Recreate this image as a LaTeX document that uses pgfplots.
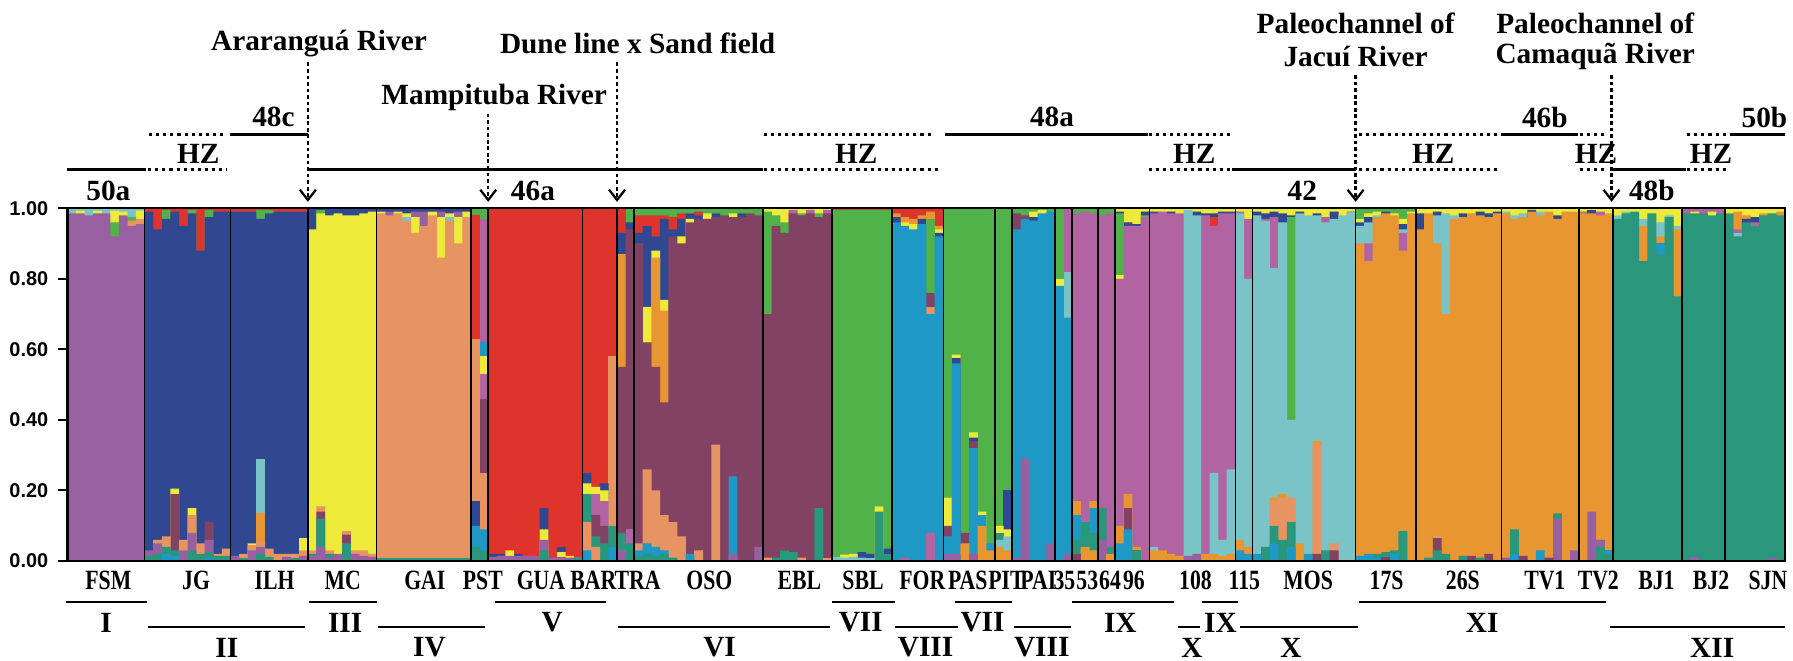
\documentclass[border=0pt]{standalone}
\usepackage{fontspec}
\usepackage{graphicx}
\usepackage{pgfplots}
\pgfplotsset{compat=1.18}
\usetikzlibrary{arrows.meta}
\setmainfont{Liberation Serif}
\newfontfamily\tickfamily{Liberation Sans}
\newcommand\tickfont{\tickfamily\bfseries\fontsize{7}{8}\selectfont}
\newcommand\bigfont{\bfseries\fontsize{10.3}{12}\selectfont}
\newcommand\popfont{\bfseries\fontsize{9.8}{11}\selectfont}
\newcommand\pl[1]{\scalebox{0.78}[1]{#1}}

\definecolor{pu}{RGB}{152,96,160}
\definecolor{nv}{RGB}{48,72,145}
\definecolor{yl}{RGB}{238,234,58}
\definecolor{sa}{RGB}{232,148,98}
\definecolor{rd}{RGB}{222,52,44}
\definecolor{mr}{RGB}{130,66,100}
\definecolor{gn}{RGB}{80,178,72}
\definecolor{bu}{RGB}{30,152,196}
\definecolor{pk}{RGB}{178,100,162}
\definecolor{cy}{RGB}{122,196,200}
\definecolor{og}{RGB}{232,150,50}
\definecolor{tl}{RGB}{42,150,124}

\pgfplotsset{seg/.style={ybar, bar width=1.03, bar shift=0pt, draw=none, fill=#1}}
\tikzset{
  solidln/.style={line width=1.1pt},
  dotln/.style={line width=1.1pt, dash pattern=on 1.1pt off 1.4pt},
  arr/.style={line width=0.8pt, dash pattern=on 1.3pt off 1pt,
    -{Straight Barb[length=3.6pt,width=5.6pt,line width=0.8pt]}},
  big/.style={font=\bigfont, inner sep=0pt, align=center},
  pop/.style={font=\popfont, inner sep=0pt},
  romln/.style={line width=0.6pt}
}

\begin{document}
\begin{tikzpicture}
\begin{axis}[
  scale only axis, width=603.6pt, height=124pt,
  xmin=0.5, xmax=200.5, ymin=0, ymax=1,
  clip=false, axis on top,
  xtick=\empty,
  extra x ticks={9.5,19.5,28.5,36.5,47.5,49.5,60.5,64.5,66.5,81.5,89.5,96.5,102.5,108.5,110.5,115.5,117.5,120.5,122.5,126.5,136.5,138.5,150.5,157.5,167.5,176.5,180.5,188.5,193.5},
  extra x tick labels={},
  extra x tick style={xmajorgrids=true, major tick length=0pt},
  major grid style={black, line width=0.55pt},
  ytick={0,0.2,0.4,0.6,0.8,1},
  ytick pos=left, tick align=outside, major tick length=3.2pt,
  tick style={black, line width=0.7pt},
  yticklabel style={font=\tickfont, /pgf/number format/fixed, /pgf/number format/fixed zerofill, /pgf/number format/precision=2, /pgf/number format/assume math mode=true},
  axis line style={line width=0.85pt},
]
% FSM
\addplot[seg=cy] coordinates {(1,1)(2,1)(3,1)(4,1)(5,1)(6,1)(7,1)(8,1)(9,1)};
\addplot[seg=yl] coordinates {(2,0.993)(4,0.993)(6,0.993)(7,0.99)(9,0.993)};
\addplot[seg=gn] coordinates {(6,0.96)(8,0.975)};
\addplot[seg=sa] coordinates {(8,0.965)(9,0.97)};
\addplot[seg=pu] coordinates {(1,0.985)(2,0.985)(3,0.98)(4,0.985)(5,0.985)(6,0.92)(7,0.98)(8,0.95)(9,0.955)};
% JG
\addplot[seg=rd] coordinates {(10,1)(11,1)(12,1)(13,1)(14,1)(15,1)(16,1)(17,1)(18,1)(19,1)};
\addplot[seg=gn] coordinates {(12,0.995)(15,0.995)(17,0.995)};
\addplot[seg=nv] coordinates {(10,0.99)(11,0.94)(12,0.97)(13,0.99)(14,0.95)(15,0.985)(16,0.88)(17,0.975)(18,0.99)(19,0.99)};
\addplot[seg=yl] coordinates {(13,0.205)(15,0.15)};
\addplot[seg=mr] coordinates {(13,0.19)(17,0.11)};
\addplot[seg=sa] coordinates {(11,0.06)(12,0.07)(14,0.06)(15,0.13)(16,0.05)(18,0.02)(19,0.035)};
\addplot[seg=pu] coordinates {(10,0.03)(11,0.05)(14,0.03)(15,0.08)(17,0.06)};
\addplot[seg=tl] coordinates {(10,0.015)(11,0.02)(12,0.04)(13,0.03)(15,0.03)(16,0.02)(17,0.025)(18,0.015)(19,0.015)};
\addplot[seg=bu] coordinates {(12,0.02)(13,0.015)(17,0.01)};
% ILH
\addplot[seg=rd] coordinates {(20,1)(21,1)(22,1)(23,1)(24,1)(25,1)(26,1)(27,1)(28,1)};
\addplot[seg=gn] coordinates {(23,0.995)(24,0.995)};
\addplot[seg=nv] coordinates {(20,0.99)(21,0.99)(22,0.99)(23,0.97)(24,0.985)(25,0.99)(26,0.99)(27,0.99)(28,0.99)};
\addplot[seg=cy] coordinates {(23,0.29)};
\addplot[seg=og] coordinates {(23,0.135)};
\addplot[seg=yl] coordinates {(22,0.05)(28,0.065)};
\addplot[seg=sa] coordinates {(21,0.02)(22,0.045)(23,0.055)(24,0.035)(25,0.02)(26,0.02)(27,0.02)(28,0.03)};
\addplot[seg=pu] coordinates {(20,0.015)(22,0.03)(23,0.04)(26,0.012)(28,0.015)};
\addplot[seg=tl] coordinates {(21,0.008)(23,0.02)(24,0.012)(27,0.008)};
% MC
\addplot[seg=nv] coordinates {(29,1)(30,1)(31,1)(32,1)(33,1)(34,1)(35,1)(36,1)};
\addplot[seg=gn] coordinates {(30,0.995)};
\addplot[seg=yl] coordinates {(29,0.94)(30,0.985)(31,0.98)(32,0.985)(33,0.98)(34,0.98)(35,0.985)(36,0.99)};
\addplot[seg=sa] coordinates {(29,0.03)(30,0.155)(31,0.03)(33,0.085)(34,0.03)(35,0.03)(36,0.02)};
\addplot[seg=mr] coordinates {(30,0.14)(33,0.075)};
\addplot[seg=tl] coordinates {(29,0.02)(30,0.12)(31,0.02)(33,0.05)};
\addplot[seg=pu] coordinates {(29,0.015)(30,0.04)(31,0.01)(32,0.02)(34,0.02)(35,0.015)(36,0.012)};
% GAI
\addplot[seg=nv] coordinates {(37,1)(38,1)(39,1)(40,1)(41,1)(42,1)(43,1)(44,1)(45,1)(46,1)(47,1)};
\addplot[seg=pu] coordinates {(38,0.99)(41,0.99)(42,0.99)(44,0.99)(46,0.99)};
\addplot[seg=yl] coordinates {(37,0.99)(39,0.99)(40,0.985)(41,0.975)(43,0.99)(44,0.975)(45,0.985)(46,0.975)(47,0.99)};
\addplot[seg=cy] coordinates {(40,0.975)(45,0.975)};
\addplot[seg=sa] coordinates {(37,0.985)(38,0.98)(39,0.985)(40,0.965)(41,0.93)(42,0.95)(43,0.98)(44,0.86)(45,0.965)(46,0.9)(47,0.975)};
\addplot[seg=tl] coordinates {(37,0.008)(38,0.008)(39,0.008)(40,0.008)(41,0.008)(42,0.008)(43,0.008)(44,0.008)(45,0.008)(46,0.008)(47,0.008)};
% PST
\addplot[seg=gn] coordinates {(48,1)(49,1)};
\addplot[seg=rd] coordinates {(48,0.98)};
\addplot[seg=pk] coordinates {(49,0.97)};
\addplot[seg=sa] coordinates {(48,0.63)};
\addplot[seg=bu] coordinates {(49,0.62)};
\addplot[seg=yl] coordinates {(49,0.58)};
\addplot[seg=pk] coordinates {(49,0.53)};
\addplot[seg=mr] coordinates {(49,0.46)};
\addplot[seg=sa] coordinates {(49,0.25)};
\addplot[seg=nv] coordinates {(48,0.17)};
\addplot[seg=bu] coordinates {(48,0.1)(49,0.09)};
\addplot[seg=tl] coordinates {(48,0.04)(49,0.03)};
% GUA
\addplot[seg=rd] coordinates {(50,1)(51,1)(52,1)(53,1)(54,1)(55,1)(56,1)(57,1)(58,1)(59,1)(60,1)};
\addplot[seg=nv] coordinates {(50,0.02)(51,0.02)(53,0.02)(56,0.15)(58,0.04)};
\addplot[seg=yl] coordinates {(52,0.03)(56,0.09)(58,0.025)(59,0.015)};
\addplot[seg=pu] coordinates {(50,0.012)(51,0.015)(52,0.015)(53,0.015)(54,0.015)(55,0.015)(56,0.06)(57,0.01)(58,0.012)(59,0.01)(60,0.012)};
\addplot[seg=tl] coordinates {(56,0.03)(60,0.008)};
% BAR
\addplot[seg=rd] coordinates {(61,1)(62,1)(63,1)(64,1)};
\addplot[seg=sa] coordinates {(64,0.58)};
\addplot[seg=nv] coordinates {(61,0.25)(63,0.22)};
\addplot[seg=yl] coordinates {(61,0.22)(62,0.21)(63,0.2)};
\addplot[seg=pk] coordinates {(62,0.19)(63,0.17)};
\addplot[seg=mr] coordinates {(62,0.13)(63,0.1)};
\addplot[seg=tl] coordinates {(61,0.19)(62,0.07)(63,0.05)(64,0.1)};
\addplot[seg=sa] coordinates {(61,0.11)(62,0.04)};
\addplot[seg=bu] coordinates {(61,0.03)(64,0.04)};
% TRA
\addplot[seg=rd] coordinates {(65,1)};
\addplot[seg=gn] coordinates {(66,1)};
\addplot[seg=nv] coordinates {(65,0.93)(66,0.96)};
\addplot[seg=og] coordinates {(65,0.87)};
\addplot[seg=mr] coordinates {(65,0.55)(66,0.94)};
\addplot[seg=pk] coordinates {(66,0.09)};
\addplot[seg=tl] coordinates {(65,0.08)(66,0.05)};
\addplot[seg=pu] coordinates {(65,0.03)};
% OSO
\addplot[seg=gn] coordinates {(67,1)(68,1)(69,1)(70,1)(71,1)(72,1)(73,1)(74,1)(75,1)(76,1)(77,1)(78,1)(79,1)(80,1)(81,1)};
\addplot[seg=rd] coordinates {(67,0.98)(68,0.98)(69,0.98)(70,0.98)(71,0.975)(72,0.985)(74,0.99)};
\addplot[seg=nv] coordinates {(67,0.93)(68,0.95)(69,0.92)(70,0.97)(71,0.94)(72,0.97)(73,0.985)(74,0.98)(76,0.985)(79,0.985)};
\addplot[seg=yl] coordinates {(68,0.72)(69,0.88)(70,0.74)(72,0.92)(73,0.97)(75,0.985)(78,0.985)};
\addplot[seg=og] coordinates {(69,0.86)(70,0.71)};
\addplot[seg=mr] coordinates {(67,0.9)(68,0.62)(69,0.55)(70,0.45)(71,0.92)(72,0.9)(73,0.96)(74,0.97)(75,0.97)(76,0.975)(77,0.98)(78,0.975)(79,0.975)(80,0.985)(81,0.98)};
\addplot[seg=sa] coordinates {(67,0.05)(68,0.26)(69,0.2)(70,0.13)(71,0.11)(72,0.07)(74,0.03)(76,0.33)};
\addplot[seg=bu] coordinates {(67,0.03)(68,0.05)(69,0.04)(70,0.03)(73,0.02)(78,0.24)};
\addplot[seg=pu] coordinates {(78,0.02)(81,0.04)};
\addplot[seg=tl] coordinates {(67,0.015)(68,0.02)(69,0.015)(70,0.02)(71,0.01)};
% EBL
\addplot[seg=yl] coordinates {(82,1)(83,1)(84,1)(85,1)(86,1)(87,1)(88,1)(89,1)};
\addplot[seg=pk] coordinates {(85,0.995)(87,0.995)(89,0.995)};
\addplot[seg=gn] coordinates {(82,0.99)(83,0.98)(84,0.96)(86,0.985)(88,0.985)};
\addplot[seg=mr] coordinates {(82,0.7)(83,0.95)(84,0.93)(85,0.985)(86,0.98)(87,0.985)(88,0.975)(89,0.985)};
\addplot[seg=tl] coordinates {(83,0.01)(84,0.03)(85,0.025)(88,0.15)};
\addplot[seg=sa] coordinates {(82,0.01)(86,0.01)(89,0.008)};
% SBL
\addplot[seg=rd] coordinates {(90,1)(91,1)(92,1)(93,1)(94,1)(95,1)(96,1)};
\addplot[seg=gn] coordinates {(90,0.995)(91,0.995)(92,0.995)(93,0.995)(94,0.995)(95,0.995)(96,0.995)};
\addplot[seg=nv] coordinates {(93,0.025)(94,0.02)(96,0.035)};
\addplot[seg=yl] coordinates {(91,0.018)(92,0.02)(95,0.155)};
\addplot[seg=tl] coordinates {(90,0.008)(95,0.14)(96,0.02)};
\addplot[seg=cy] coordinates {(90,0.012)(91,0.01)(92,0.012)(93,0.01)(94,0.008)};
% FOR
\addplot[seg=rd] coordinates {(97,1)(98,1)(99,1)(100,1)(101,1)(102,1)};
\addplot[seg=og] coordinates {(97,0.985)(98,0.975)(99,0.97)(100,0.98)(101,0.99)(102,0.95)};
\addplot[seg=yl] coordinates {(98,0.96)(99,0.955)(102,0.94)};
\addplot[seg=nv] coordinates {(97,0.975)(100,0.97)(102,0.93)};
\addplot[seg=gn] coordinates {(101,0.97)};
\addplot[seg=mr] coordinates {(101,0.76)};
\addplot[seg=sa] coordinates {(101,0.72)};
\addplot[seg=bu] coordinates {(97,0.96)(98,0.95)(99,0.94)(100,0.955)(101,0.7)(102,0.92)};
\addplot[seg=pk] coordinates {(101,0.08)(98,0.01)};
% PAS
\addplot[seg=gn] coordinates {(103,1)(104,1)(105,1)(106,1)(107,1)(108,1)};
\addplot[seg=yl] coordinates {(103,0.18)(104,0.585)(106,0.365)(107,0.14)};
\addplot[seg=nv] coordinates {(104,0.575)(106,0.35)};
\addplot[seg=mr] coordinates {(103,0.1)(105,0.08)(106,0.34)};
\addplot[seg=bu] coordinates {(103,0.07)(104,0.56)(106,0.32)(107,0.13)(108,0.05)};
\addplot[seg=og] coordinates {(105,0.05)(107,0.1)(108,0.03)};
\addplot[seg=pu] coordinates {(103,0.02)(104,0.02)(106,0.02)};
% PIT
\addplot[seg=gn] coordinates {(109,1)(110,1)};
\addplot[seg=nv] coordinates {(110,0.2)};
\addplot[seg=yl] coordinates {(109,0.1)(110,0.09)};
\addplot[seg=tl] coordinates {(109,0.08)};
\addplot[seg=cy] coordinates {(109,0.06)(110,0.07)};
\addplot[seg=og] coordinates {(109,0.04)(110,0.03)};
% PAI
\addplot[seg=gn] coordinates {(111,1)(112,1)(113,1)(114,1)(115,1)};
\addplot[seg=yl] coordinates {(113,0.99)(114,0.995)};
\addplot[seg=mr] coordinates {(111,0.985)(112,0.98)};
\addplot[seg=nv] coordinates {(113,0.975)};
\addplot[seg=bu] coordinates {(111,0.94)(112,0.97)(113,0.965)(114,0.985)(115,0.99)};
\addplot[seg=pu] coordinates {(111,0.01)(112,0.29)(115,0.05)};
% 35
\addplot[seg=gn] coordinates {(116,1)};
\addplot[seg=pk] coordinates {(117,1)};
\addplot[seg=yl] coordinates {(116,0.8)};
\addplot[seg=cy] coordinates {(117,0.82)};
\addplot[seg=bu] coordinates {(116,0.78)(117,0.69)};
\addplot[seg=pu] coordinates {(117,0.02)};
% 53
\addplot[seg=gn] coordinates {(118,1)(119,1)(120,1)};
\addplot[seg=pk] coordinates {(118,0.985)(119,0.99)(120,0.985)};
\addplot[seg=og] coordinates {(118,0.17)(120,0.17)};
\addplot[seg=bu] coordinates {(118,0.13)(120,0.15)};
\addplot[seg=tl] coordinates {(118,0.06)(119,0.11)(120,0.08)};
\addplot[seg=og] coordinates {(119,0.04)(120,0.03)};
\addplot[seg=mr] coordinates {(118,0.02)};
% 64
\addplot[seg=gn] coordinates {(121,1)(122,1)};
\addplot[seg=pk] coordinates {(121,0.98)(122,0.985)};
\addplot[seg=tl] coordinates {(121,0.15)(122,0.04)};
\addplot[seg=pu] coordinates {(121,0.06)};
\addplot[seg=og] coordinates {(122,0.02)};
% 96
\addplot[seg=yl] coordinates {(123,1)(124,1)(125,1)(126,1)};
\addplot[seg=nv] coordinates {(123,0.99)(124,0.96)(125,0.955)(126,0.99)};
\addplot[seg=gn] coordinates {(123,0.985)(126,0.98)};
\addplot[seg=yl] coordinates {(123,0.81)};
\addplot[seg=pk] coordinates {(123,0.8)(124,0.95)(125,0.95)(126,0.975)};
\addplot[seg=og] coordinates {(123,0.1)(124,0.19)(125,0.04)};
\addplot[seg=mr] coordinates {(124,0.15)};
\addplot[seg=bu] coordinates {(123,0.05)(124,0.09)};
\addplot[seg=tl] coordinates {(125,0.03)};
% 108
\addplot[seg=yl] coordinates {(127,1)(128,1)(129,1)(130,1)(131,1)(132,1)(133,1)(134,1)(135,1)(136,1)};
\addplot[seg=nv] coordinates {(127,0.99)(129,0.99)(132,0.99)(133,0.985)(134,0.985)(135,0.99)(136,0.99)};
\addplot[seg=rd] coordinates {(134,0.975)};
\addplot[seg=pk] coordinates {(127,0.985)(128,0.99)(129,0.985)(130,0.985)(133,0.98)(134,0.95)(135,0.985)(136,0.985)};
\addplot[seg=cy] coordinates {(131,0.995)(132,0.98)};
\addplot[seg=cy] coordinates {(127,0.04)(134,0.25)(135,0.06)(136,0.26)};
\addplot[seg=og] coordinates {(127,0.03)(128,0.03)(129,0.02)(130,0.015)(133,0.02)(134,0.02)(135,0.015)(136,0.02)};
\addplot[seg=pu] coordinates {(131,0.015)(132,0.02)};
% 115
\addplot[seg=yl] coordinates {(137,1)(138,1)};
\addplot[seg=pk] coordinates {(137,0.99)(138,0.97)};
\addplot[seg=cy] coordinates {(137,0.985)(138,0.8)};
\addplot[seg=og] coordinates {(137,0.06)(138,0.04)};
\addplot[seg=bu] coordinates {(137,0.03)(138,0.02)};
% MOS
\addplot[seg=yl] coordinates {(139,1)(140,1)(141,1)(142,1)(143,1)(144,1)(145,1)(146,1)(147,1)(148,1)(149,1)(150,1)};
\addplot[seg=nv] coordinates {(139,0.99)(140,0.985)(141,0.99)(142,0.985)(143,0.98)(144,0.99)(146,0.985)(148,0.99)(150,0.99)};
\addplot[seg=pk] coordinates {(140,0.97)(141,0.975)(147,0.975)};
\addplot[seg=gn] coordinates {(143,0.975)};
\addplot[seg=cy] coordinates {(139,0.98)(140,0.965)(141,0.83)(142,0.96)(143,0.4)(144,0.985)(145,0.98)(146,0.98)(147,0.96)(148,0.97)(149,0.98)(150,0.99)};
\addplot[seg=og] coordinates {(141,0.18)(142,0.19)(144,0.05)(146,0.34)};
\addplot[seg=sa] coordinates {(141,0.17)(142,0.18)(143,0.18)(146,0.33)(148,0.05)};
\addplot[seg=tl] coordinates {(140,0.04)(141,0.1)(142,0.06)(143,0.11)(147,0.03)};
\addplot[seg=bu] coordinates {(139,0.02)(141,0.05)(143,0.04)(145,0.02)};
\addplot[seg=mr] coordinates {(146,0.02)(148,0.03)};
% 17S
\addplot[seg=gn] coordinates {(151,1)(152,1)(153,1)(154,1)(155,1)(156,1)(157,1)};
\addplot[seg=yl] coordinates {(151,0.97)(152,0.985)(153,0.99)(155,0.985)(156,0.97)(157,0.99)};
\addplot[seg=nv] coordinates {(151,0.96)(152,0.975)(154,0.99)(156,0.955)};
\addplot[seg=cy] coordinates {(151,0.95)(152,0.96)(153,0.98)(156,0.94)};
\addplot[seg=pk] coordinates {(152,0.9)(156,0.93)};
\addplot[seg=og] coordinates {(151,0.9)(152,0.85)(153,0.975)(154,0.985)(155,0.98)(156,0.88)(157,0.985)};
\addplot[seg=tl] coordinates {(153,0.02)(154,0.025)(155,0.03)(156,0.085)};
\addplot[seg=bu] coordinates {(151,0.015)(152,0.02)(153,0.01)(155,0.02)};
\addplot[seg=mr] coordinates {(154,0.012)};
% 26S
\addplot[seg=yl] coordinates {(158,1)(159,1)(160,1)(161,1)(162,1)(163,1)(164,1)(165,1)(166,1)(167,1)};
\addplot[seg=nv] coordinates {(158,0.985)(160,0.99)(163,0.985)(165,0.99)(166,0.985)(167,0.99)};
\addplot[seg=cy] coordinates {(160,0.98)(161,0.985)(162,0.98)};
\addplot[seg=og] coordinates {(158,0.94)(159,0.985)(160,0.9)(161,0.7)(162,0.97)(163,0.975)(164,0.985)(165,0.98)(166,0.975)(167,0.985)};
\addplot[seg=sa] coordinates {(160,0.07)};
\addplot[seg=mr] coordinates {(160,0.065)(164,0.015)(166,0.02)};
\addplot[seg=tl] coordinates {(159,0.01)(160,0.03)(161,0.02)(163,0.015)(165,0.01)};
% TV1
\addplot[seg=yl] coordinates {(168,1)(169,1)(170,1)(171,1)(172,1)(173,1)(174,1)(175,1)(176,1)};
\addplot[seg=cy] coordinates {(168,0.99)(169,0.98)(170,0.985)(172,0.99)};
\addplot[seg=nv] coordinates {(171,0.995)(174,0.98)};
\addplot[seg=og] coordinates {(168,0.985)(169,0.97)(170,0.975)(171,0.99)(172,0.98)(173,0.99)(174,0.97)(175,0.99)(176,0.99)};
\addplot[seg=tl] coordinates {(169,0.09)(174,0.135)};
\addplot[seg=pu] coordinates {(168,0.01)(174,0.12)(176,0.03)};
\addplot[seg=bu] coordinates {(169,0.02)(172,0.03)};
\addplot[seg=mr] coordinates {(170,0.015)(173,0.01)};
% TV2
\addplot[seg=yl] coordinates {(177,1)(178,1)(179,1)(180,1)};
\addplot[seg=pk] coordinates {(177,0.99)(179,0.99)};
\addplot[seg=nv] coordinates {(178,0.995)};
\addplot[seg=og] coordinates {(177,0.985)(178,0.985)(179,0.98)(180,0.985)};
\addplot[seg=pu] coordinates {(178,0.14)(179,0.06)};
\addplot[seg=bu] coordinates {(180,0.03)};
\addplot[seg=tl] coordinates {(179,0.04)(180,0.02)};
% BJ1
\addplot[seg=yl] coordinates {(181,1)(182,1)(183,1)(184,1)(185,1)(186,1)(187,1)(188,1)};
\addplot[seg=cy] coordinates {(181,0.98)(182,0.99)(184,0.97)(186,0.96)(187,0.98)(188,0.95)};
\addplot[seg=og] coordinates {(184,0.95)(186,0.92)(188,0.94)};
\addplot[seg=bu] coordinates {(186,0.9)};
\addplot[seg=tl] coordinates {(181,0.97)(182,0.985)(183,0.99)(184,0.85)(185,0.985)(186,0.87)(187,0.975)(188,0.75)};
% BJ2
\addplot[seg=pk] coordinates {(189,1)(190,1)(191,1)(192,1)(193,1)};
\addplot[seg=yl] coordinates {(190,0.99)(192,0.99)};
\addplot[seg=tl] coordinates {(189,0.985)(190,0.985)(191,0.985)(192,0.98)(193,0.985)};
\addplot[seg=pu] coordinates {(190,0.012)};
% SJN
\addplot[seg=yl] coordinates {(194,1)(195,1)(196,1)(197,1)(198,1)(199,1)(200,1)};
\addplot[seg=og] coordinates {(195,0.99)(196,0.98)(198,0.985)(200,0.99)};
\addplot[seg=nv] coordinates {(196,0.97)(197,0.975)};
\addplot[seg=pk] coordinates {(195,0.94)(197,0.96)};
\addplot[seg=cy] coordinates {(195,0.93)};
\addplot[seg=tl] coordinates {(194,0.985)(195,0.92)(196,0.96)(197,0.95)(198,0.98)(199,0.985)(200,0.98)};
\addplot[seg=pu] coordinates {(199,0.01)};

% picture frame
\path (axis cs:-6.39,-0.2806) rectangle (axis cs:201.43,1.59);

% zone lines above
\draw[solidln] (axis cs:0.5,1.11) -- (axis cs:9.65,1.11);
\draw[dotln] (axis cs:10.0,1.21) -- (axis cs:19.1,1.21);
\draw[dotln] (axis cs:9.9,1.11) -- (axis cs:19.1,1.11);
\draw[solidln] (axis cs:19.45,1.21) -- (axis cs:28.5,1.21);
\draw[solidln] (axis cs:28.5,1.11) -- (axis cs:81.5,1.11);
\draw[dotln] (axis cs:81.6,1.21) -- (axis cs:101.4,1.21);
\draw[dotln] (axis cs:81.6,1.11) -- (axis cs:102.0,1.11);
\draw[solidln] (axis cs:102.7,1.21) -- (axis cs:126.3,1.21);
\draw[dotln] (axis cs:126.4,1.21) -- (axis cs:136.1,1.21);
\draw[dotln] (axis cs:126.4,1.11) -- (axis cs:136.0,1.11);
\draw[solidln] (axis cs:136.1,1.11) -- (axis cs:150.5,1.11);
\draw[dotln] (axis cs:150.9,1.21) -- (axis cs:167.5,1.21);
\draw[dotln] (axis cs:150.9,1.11) -- (axis cs:167.2,1.11);
\draw[solidln] (axis cs:167.5,1.21) -- (axis cs:176.4,1.21);
\draw[dotln] (axis cs:176.6,1.21) -- (axis cs:179.6,1.21);
\draw[dotln] (axis cs:176.6,1.11) -- (axis cs:179.9,1.11);
\draw[solidln] (axis cs:180.1,1.11) -- (axis cs:189.0,1.11);
\draw[dotln] (axis cs:189.1,1.21) -- (axis cs:194.0,1.21);
\draw[dotln] (axis cs:189.1,1.11) -- (axis cs:193.7,1.11);
\draw[solidln] (axis cs:194.1,1.21) -- (axis cs:200.5,1.21);

\node[big] at (axis cs:5.27,1.05) {50a};
\node[big] at (axis cs:15.74,1.155) {HZ};
\node[big] at (axis cs:24.49,1.258) {48c};
\node[big] at (axis cs:54.71,1.05) {46a};
\node[big] at (axis cs:92.35,1.155) {HZ};
\node[big] at (axis cs:115.15,1.258) {48a};
\node[big] at (axis cs:131.71,1.155) {HZ};
\node[big] at (axis cs:144.3,1.05) {42};
\node[big] at (axis cs:159.54,1.155) {HZ};
\node[big] at (axis cs:172.53,1.258) {46b};
\node[big] at (axis cs:178.5,1.155) {HZ};
\node[big] at (axis cs:184.99,1.05) {48b};
\node[big] at (axis cs:191.88,1.155) {HZ};
\node[big] at (axis cs:198.1,1.258) {50b};

% barriers
\node[big] at (axis cs:29.79,1.468) {Araranguá River};
\draw[arr] (axis cs:28.5,1.413) -- (axis cs:28.5,1.018);
\node[big] at (axis cs:50.2,1.313) {Mampituba River};
\draw[arr] (axis cs:49.5,1.268) -- (axis cs:49.5,1.018);
\node[big] at (axis cs:66.9,1.468) {Dune line x Sand field};
\draw[arr] (axis cs:64.5,1.413) -- (axis cs:64.5,1.018);
\node[big] at (axis cs:150.5,1.524) {Paleochannel of};
\node[big] at (axis cs:150.5,1.43) {Jacuí River};
\draw[arr] (axis cs:150.5,1.377) -- (axis cs:150.5,1.018);
\node[big] at (axis cs:178.4,1.524) {Paleochannel of};
\node[big] at (axis cs:178.4,1.43) {Camaquã River};
\draw[arr] (axis cs:180.3,1.377) -- (axis cs:180.3,1.018);

% population labels
\node[pop] at (axis cs:5.27,-0.055) {\pl{FSM}};
\node[pop] at (axis cs:15.48,-0.055) {\pl{JG}};
\node[pop] at (axis cs:24.62,-0.055) {\pl{ILH}};
\node[pop] at (axis cs:32.57,-0.055) {\pl{MC}};
\node[pop] at (axis cs:42.12,-0.055) {\pl{GAI}};
\node[pop] at (axis cs:48.88,-0.055) {\pl{PST}};
\node[pop] at (axis cs:55.64,-0.055) {\pl{GUA}};
\node[pop] at (axis cs:61.73,-0.055) {\pl{BAR}};
\node[pop] at (axis cs:66.9,-0.055) {\pl{TRA}};
\node[pop] at (axis cs:75.25,-0.055) {\pl{OSO}};
\node[pop] at (axis cs:85.72,-0.055) {\pl{EBL}};
\node[pop] at (axis cs:93.14,-0.055) {\pl{SBL}};
\node[pop] at (axis cs:100.04,-0.055) {\pl{FOR}};
\node[pop] at (axis cs:105.34,-0.055) {\pl{PAS}};
\node[pop] at (axis cs:109.84,-0.055) {\pl{PIT}};
\node[pop] at (axis cs:113.55,-0.055) {\pl{PAI}};
\node[pop] at (axis cs:116.6,-0.055) {\pl{35}};
\node[pop] at (axis cs:119.25,-0.055) {\pl{53}};
\node[pop] at (axis cs:121.9,-0.055) {\pl{64}};
\node[pop] at (axis cs:124.69,-0.055) {\pl{96}};
\node[pop] at (axis cs:131.85,-0.055) {\pl{108}};
\node[pop] at (axis cs:137.54,-0.055) {\pl{115}};
\node[pop] at (axis cs:144.97,-0.055) {\pl{MOS}};
\node[pop] at (axis cs:154.11,-0.055) {\pl{17S}};
\node[pop] at (axis cs:162.99,-0.055) {\pl{26S}};
\node[pop] at (axis cs:172.53,-0.055) {\pl{TV1}};
\node[pop] at (axis cs:178.76,-0.055) {\pl{TV2}};
\node[pop] at (axis cs:185.52,-0.055) {\pl{BJ1}};
\node[pop] at (axis cs:191.88,-0.055) {\pl{BJ2}};
\node[pop] at (axis cs:198.51,-0.055) {\pl{SJN}};

% genetic groups, upper row
\draw[romln] (axis cs:0.37,-0.116) -- (axis cs:9.78,-0.116);
\node[big] at (axis cs:5.0,-0.174) {I};
\draw[romln] (axis cs:28.6,-0.116) -- (axis cs:36.55,-0.116);
\node[big] at (axis cs:32.84,-0.174) {III};
\draw[romln] (axis cs:50.33,-0.116) -- (axis cs:63.19,-0.116);
\node[big] at (axis cs:56.96,-0.174) {V};
\draw[romln] (axis cs:89.5,-0.116) -- (axis cs:96.83,-0.116);
\node[big] at (axis cs:92.88,-0.174) {VII};
\draw[romln] (axis cs:103.88,-0.116) -- (axis cs:110.5,-0.116);
\node[big] at (axis cs:107.06,-0.174) {VII};
\draw[romln] (axis cs:117.53,-0.116) -- (axis cs:129.33,-0.116);
\node[big] at (axis cs:123.1,-0.174) {IX};
\draw[romln] (axis cs:132.64,-0.116) -- (axis cs:136.75,-0.116);
\node[big] at (axis cs:134.76,-0.174) {IX};
\draw[romln] (axis cs:150.93,-0.116) -- (axis cs:179.69,-0.116);
\node[big] at (axis cs:165.24,-0.174) {XI};
% lower row
\draw[romln] (axis cs:9.91,-0.187) -- (axis cs:28.2,-0.187);
\node[big] at (axis cs:19.06,-0.245) {II};
\draw[romln] (axis cs:36.68,-0.187) -- (axis cs:49.14,-0.187);
\node[big] at (axis cs:42.65,-0.245) {IV};
\draw[romln] (axis cs:64.65,-0.187) -- (axis cs:89.3,-0.187);
\node[big] at (axis cs:76.44,-0.245) {VI};
\draw[romln] (axis cs:96.86,-0.187) -- (axis cs:104.15,-0.187);
\node[big] at (axis cs:100.43,-0.245) {VIII};
\draw[romln] (axis cs:110.77,-0.187) -- (axis cs:117.4,-0.187);
\node[big] at (axis cs:113.95,-0.245) {VIII};
\draw[romln] (axis cs:129.86,-0.187) -- (axis cs:132.38,-0.187);
\node[big] at (axis cs:131.45,-0.245) {X};
\draw[romln] (axis cs:137.01,-0.187) -- (axis cs:150.8,-0.187);
\node[big] at (axis cs:142.98,-0.245) {X};
\draw[romln] (axis cs:180.09,-0.187) -- (axis cs:200.5,-0.187);
\node[big] at (axis cs:192.02,-0.245) {XII};
\end{axis}
\end{tikzpicture}
\end{document}
